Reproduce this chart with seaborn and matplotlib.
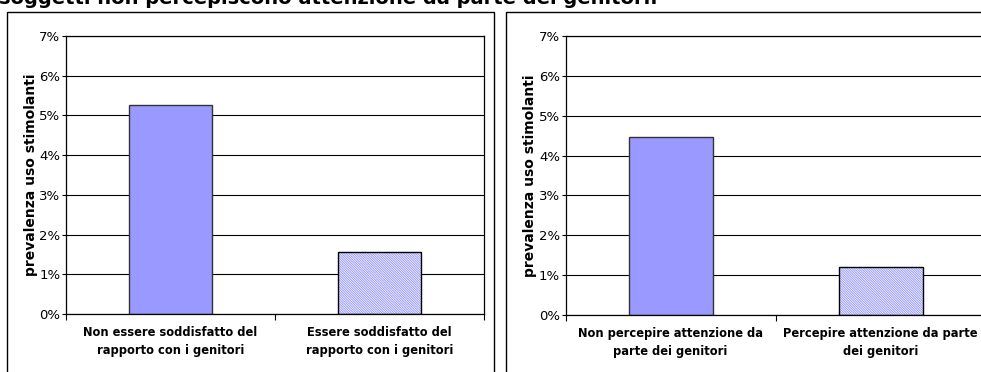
import numpy as np
import pandas as pd
import matplotlib
matplotlib.use("Agg")
import matplotlib.pyplot as plt
import seaborn as sns
from matplotlib.ticker import PercentFormatter, FixedLocator
from matplotlib.patches import Rectangle

# ---- data ----
TITLE = "soggetti non percepiscono attenzione da parte dei genitori."
Y_LABEL = "prevalenza uso stimolanti"

left_categories = ["Non essere soddisfatto del\nrapporto con i genitori",
                   "Essere soddisfatto del\nrapporto con i genitori"]
left_values = [0.0526, 0.0157]

right_categories = ["Non percepire attenzione da\nparte dei genitori",
                    "Percepire attenzione da parte\ndei genitori"]
right_values = [0.0446, 0.0121]

Y_TICKS = [0.00, 0.01, 0.02, 0.03, 0.04, 0.05, 0.06, 0.07]

BAR_COLOR   = "#9999FF"
HATCH_COLOR = "#9999FF"
W, H = 981, 372

sns.set_style("white")
plt.rcParams["font.family"] = ["DejaVu Sans"]
plt.rcParams["hatch.linewidth"] = 0.7
for key in ["text.color", "axes.labelcolor", "xtick.color", "ytick.color"]:
    plt.rcParams[key] = "black"


def draw_panel(ax, categories, values):
    df = pd.DataFrame({"cat": categories, "val": values})
    sns.barplot(data=df, x="cat", y="val", hue="cat", palette=[BAR_COLOR, "white"],
                width=0.4, legend=False, ax=ax, saturation=1)
    solid, hatched = ax.patches[0], ax.patches[1]
    solid.set_edgecolor("#333333")
    solid.set_linewidth(1.0)
    hatched.set_hatch("\\\\\\\\\\\\\\\\\\\\\\\\\\\\")
    hatched.set_edgecolor(HATCH_COLOR)
    hatched.set_linewidth(0)
    # outline on top of the hatched bar
    ax.add_patch(Rectangle(hatched.get_xy(), hatched.get_width(), hatched.get_height(),
                           fill=False, ec="black", lw=1.0, zorder=hatched.get_zorder() + 0.1))

    ax.set_xlim(-0.5, 1.5)
    ax.set_ylim(0, 0.07)
    ax.yaxis.set_major_locator(FixedLocator(Y_TICKS))
    ax.yaxis.set_major_formatter(PercentFormatter(xmax=1, decimals=0))
    ax.yaxis.grid(True, color="black", lw=0.8)
    ax.set_axisbelow(True)
    for s in ax.spines.values():
        s.set_color("black")
        s.set_linewidth(0.9)

    ax.set_xlabel("")
    ax.set_ylabel(Y_LABEL, fontsize=10, fontweight="bold", labelpad=1)
    ax.tick_params(axis="y", which="major", direction="out", length=3, width=0.8,
                   labelsize=9.5, pad=1, left=True)
    ax.tick_params(axis="x", which="major", length=0, pad=9)
    ax.set_xticks([-0.5, 0.5, 1.5], minor=True)
    ax.tick_params(axis="x", which="minor", direction="out", length=4, width=0.8, bottom=True)
    for lab in ax.get_xticklabels():
        lab.set_fontsize(8.3)
        lab.set_fontweight("bold")
        lab.set_linespacing(1.45)


fig = plt.figure(figsize=(W / 100, H / 100), dpi=100)

ax1 = fig.add_axes([66 / W, 58 / H, 418 / W, 278 / H])
ax2 = fig.add_axes([565.5 / W, 57 / H, 420 / W, 279 / H])

draw_panel(ax1, left_categories, left_values)
draw_panel(ax2, right_categories, right_values)

# chart-area frames (cut at the bottom/right as in the source)
fig.add_artist(Rectangle((7 / W, -0.2), (494 - 7) / W, (H - 12) / H + 0.2,
                         transform=fig.transFigure, fill=False, ec="black", lw=1.0))
fig.add_artist(Rectangle((506 / W, -0.2), 0.6, (H - 12) / H + 0.2,
                         transform=fig.transFigure, fill=False, ec="black", lw=1.0))

# title, mostly cut by the top edge
fig.text(-0.001, 1 - 4 / H, TITLE, fontsize=14, fontweight="bold", va="baseline", ha="left")

fig.savefig("out.png", dpi=100)
